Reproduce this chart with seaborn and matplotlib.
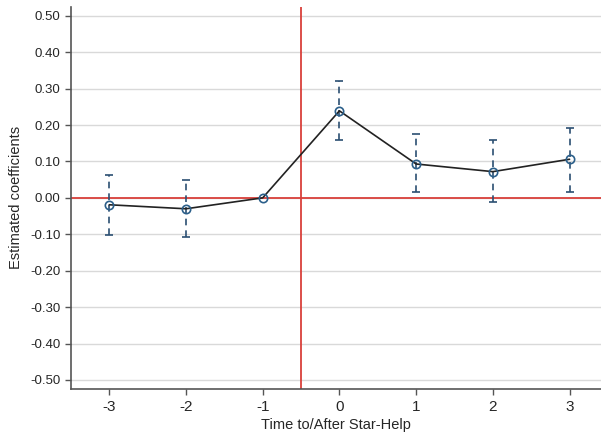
import matplotlib
matplotlib.use("Agg")
import matplotlib.pyplot as plt
import seaborn as sns
import pandas as pd
import numpy as np

periods = [-3, -2, -1, 0, 1, 2, 3]
coef = [-0.019, -0.030, 0.000, 0.239, 0.093, 0.072, 0.106]
ci_low = [-0.102, -0.108, 0.000, 0.159, 0.015, -0.012, 0.017]
ci_high = [0.064, 0.049, 0.000, 0.321, 0.175, 0.159, 0.193]
yticks = [0.5, 0.4, 0.3, 0.2, 0.1, 0.0, -0.1, -0.2, -0.3, -0.4, -0.5]

sns.set_style("white")
plt.rcParams['font.family'] = ['Liberation Sans', 'DejaVu Sans']

df = pd.DataFrame({"period": periods, "coef": coef, "lo": ci_low, "hi": ci_high})

fig = plt.figure(figsize=(6.01, 4.32), dpi=100)
ax = fig.add_axes([0.118, 0.0995, 0.882, 0.885])

for y in yticks:
    ax.axhline(y, color="#d9d9d9", lw=1.0, zorder=0)
ax.axhline(0, color="#d9403a", lw=1.3, zorder=1)
ax.axvline(-0.5, color="#d9403a", lw=1.3, zorder=1)

err = df[df["period"] != -1]
eb = ax.errorbar(err["period"], err["coef"],
                 yerr=[err["coef"] - err["lo"], err["hi"] - err["coef"]],
                 fmt="none", ecolor="#2b4f72", elinewidth=1.2, capsize=3, capthick=1.2, zorder=2)
eb[2][0].set_linestyle((0, (4, 3)))

sns.lineplot(data=df, x="period", y="coef", ax=ax, color="#222222", lw=1.2,
             marker="o", markersize=6, markerfacecolor="none",
             markeredgecolor="#2b5f8a", markeredgewidth=1.2, zorder=3)

ax.set_xlim(-3.5, 3.41)
ax.set_ylim(-0.525, 0.525)
ax.set_xticks(periods)
ax.set_xticklabels([str(p) for p in periods])
ax.set_yticks(yticks)
ax.set_yticklabels([f"{v:.2f}" for v in yticks])
ax.tick_params(axis="both", direction="out", length=4, width=1, color="#555555",
               labelsize=9.5, bottom=True, left=True)
ax.tick_params(axis="x", labelsize=11, pad=4)
for s in ["top", "right"]:
    ax.spines[s].set_visible(False)
for s in ["left", "bottom"]:
    ax.spines[s].set_color("#555555")
    ax.spines[s].set_linewidth(1.2)
ax.set_xlabel("Time to/After Star-Help", fontsize=10.5, labelpad=2.5)
ax.set_ylabel("Estimated coefficients", fontsize=10.5, labelpad=5)

fig.savefig("out.png", dpi=100)
